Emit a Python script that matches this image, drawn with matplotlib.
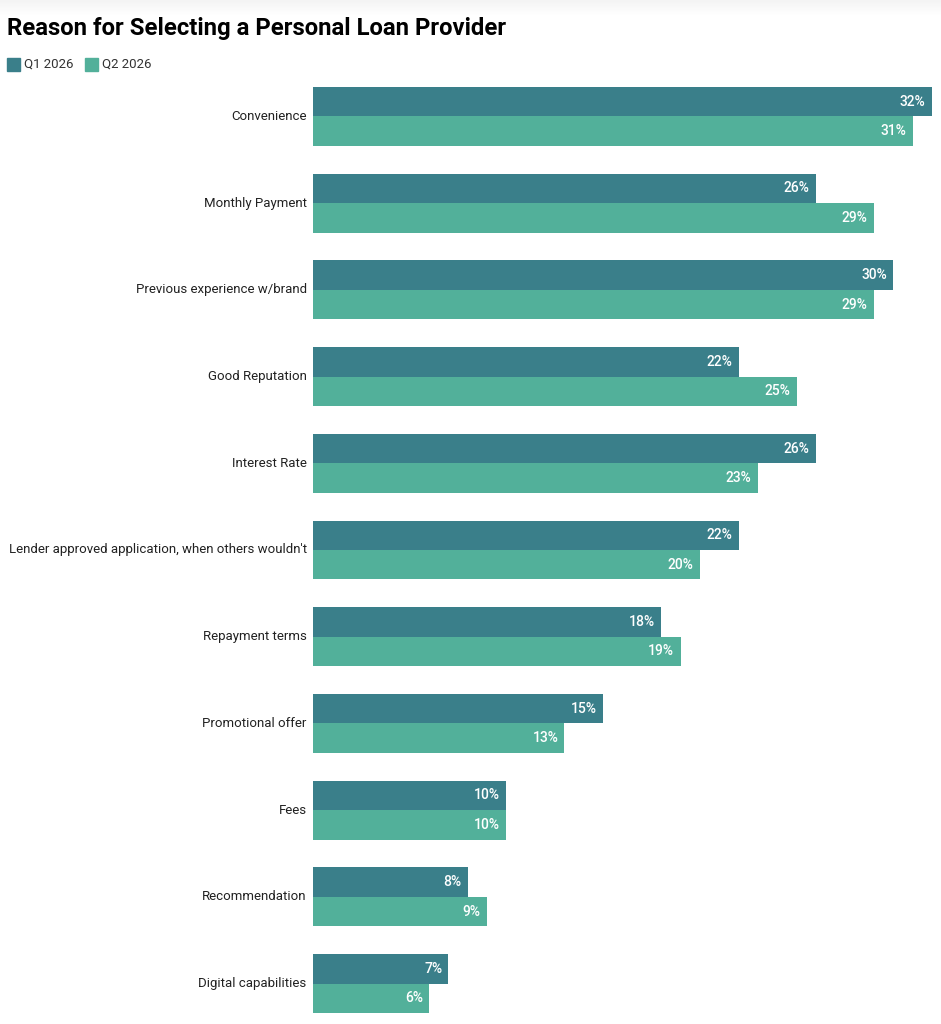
import numpy as np
import matplotlib.pyplot as plt
from matplotlib.patches import Rectangle

plt.rcParams['font.family'] = ['Roboto', 'DejaVu Sans']

categories = ['Convenience', 'Monthly Payment', 'Previous experience w/brand',
              'Good Reputation', 'Interest Rate',
              "Lender approved application, when others wouldn't",
              'Repayment terms', 'Promotional offer', 'Fees',
              'Recommendation', 'Digital capabilities']
q1 = [32, 26, 30, 22, 26, 22, 18, 15, 10, 8, 7]
q2 = [31, 29, 29, 25, 23, 20, 19, 13, 10, 9, 6]
series_names = ['Q1 2026', 'Q2 2026']
c1 = '#3a7f8a'
c2 = '#52b09a'

W, H = 941, 1024
fig = plt.figure(figsize=(W / 100, H / 100), dpi=100)

# soft grey shade at very top
grad = fig.add_axes([0, 1 - 16 / H, 1, 16 / H])
grad.imshow(np.linspace(0.955, 1.0, 50).reshape(-1, 1), cmap='gray', vmin=0, vmax=1,
            aspect='auto', extent=[0, 1, 0, 1])
grad.axis('off')

ax = fig.add_axes([313 / W, 1 - 1013 / H, (932 - 313) / W, (1013 - 87) / H])
y = np.arange(len(categories))
h = 0.34
ax.barh(y - h / 2, q1, height=h, color=c1)
ax.barh(y + h / 2, q2, height=h, color=c2)
ax.set_xlim(0, 32)
ax.set_ylim(len(categories) - 1 + h, -h)
ax.axis('off')

for i, (a, b) in enumerate(zip(q1, q2)):
    ax.annotate(f'{a}%', (a, i - h / 2), xytext=(-4.5, 0), textcoords='offset points',
                ha='right', va='center', color='white', fontsize=10, fontweight='medium')
    ax.annotate(f'{b}%', (b, i + h / 2), xytext=(-4.5, 0), textcoords='offset points',
                ha='right', va='center', color='white', fontsize=10, fontweight='medium')
    ax.annotate(categories[i], (0, i), xytext=(-4.5, 0), textcoords='offset points',
                ha='right', va='center', color='#222222', fontsize=9.5)

fig.text(7 / W, 1 - 29 / H, 'Reason for Selecting a Personal Loan Provider',
         fontsize=17.2, fontweight='bold', va='center', ha='left', color='black')

# legend
for x0, col, name in [(7, c1, series_names[0]), (85, c2, series_names[1])]:
    fig.patches.append(Rectangle((x0 / W, 1 - 71 / H), 13 / W, 13 / H,
                                 transform=fig.transFigure, color=col))
    fig.text((x0 + 17) / W, 1 - 64.5 / H, name, fontsize=9.5, va='center',
             ha='left', color='#333333')

fig.savefig('out.png', dpi=100)
